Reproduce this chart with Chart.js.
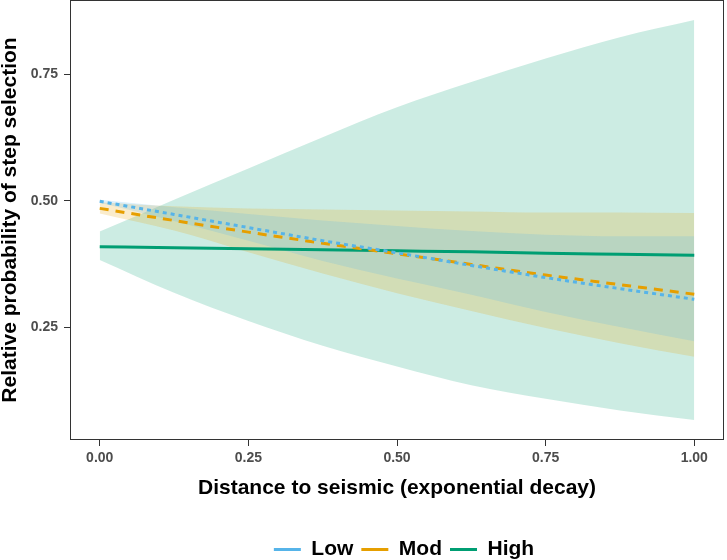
<!DOCTYPE html>
<html lang="en">
<head>
<meta charset="UTF-8" />
<title>Relative probability of step selection</title>
<script src="https://cdn.jsdelivr.net/npm/chart.js"></script>
<style>
  html, body { margin: 0; padding: 0; background: #fff; }
  #wrap { width: 727px; height: 560px; }
</style>
</head>
<body>
<div id="wrap"><canvas id="grafico"></canvas></div>
<script>
// distance to seismic (exponential decay), x positions of the predictions
const distancia = [0, 0.125, 0.25, 0.375, 0.5, 0.625, 0.75, 0.875, 1];

// Low
const lowFit   = [0.499, 0.473, 0.447, 0.421, 0.397, 0.372, 0.348, 0.326, 0.305];
const lowUpper = [0.502, 0.487, 0.474, 0.461, 0.450, 0.440, 0.433, 0.430, 0.430];
const lowLower = [0.496, 0.460, 0.421, 0.381, 0.346, 0.314, 0.280, 0.250, 0.222];

// Mod
const modFit   = [0.485, 0.461, 0.438, 0.416, 0.395, 0.374, 0.353, 0.334, 0.315];
const modUpper = [0.497, 0.489, 0.485, 0.483, 0.481, 0.479, 0.477, 0.477, 0.476];
const modLower = [0.475, 0.441, 0.398, 0.356, 0.317, 0.282, 0.248, 0.218, 0.191];

// High
const highFit   = [0.409, 0.407, 0.405, 0.403, 0.401, 0.399, 0.396, 0.394, 0.392];
const highUpper = [0.439, 0.502, 0.564, 0.626, 0.685, 0.735, 0.782, 0.824, 0.858];
const highLower = [0.383, 0.318, 0.262, 0.213, 0.172, 0.135, 0.108, 0.085, 0.066];

const xTicks = [0, 0.25, 0.5, 0.75, 1];
const yTicks = [0.25, 0.5, 0.75];

const pts = arr => arr.map((v, i) => ({ x: distancia[i], y: v }));

function banda(lower, upper, cor) {
    return [
        { label: '_lo', data: pts(lower), borderWidth: 0, pointRadius: 0, fill: false },
        { label: '_hi', data: pts(upper), borderWidth: 0, pointRadius: 0, fill: '-1', backgroundColor: cor }
    ];
}

function linha(nome, valores, cor, dash) {
    return {
        label: nome, data: pts(valores), borderColor: cor, backgroundColor: cor,
        borderWidth: 3, borderDash: dash, pointRadius: 0, fill: false
    };
}

const datasets = [
    ...banda(lowLower, lowUpper, 'rgba(86, 180, 233, 0.2)'),
    ...banda(modLower, modUpper, 'rgba(230, 159, 0, 0.2)'),
    ...banda(highLower, highUpper, 'rgba(0, 158, 115, 0.2)'),
    linha('Low', lowFit, '#56B4E9', [4, 4]),
    linha('Mod', modFit, '#E69F00', [9, 7]),
    linha('High', highFit, '#009E73', [])
];
datasets.forEach(d => { d.cubicInterpolationMode = 'monotone'; });

// panel border like ggplot
const marco = {
    id: 'marco',
    afterDatasetsDraw(chart) {
        const { ctx, chartArea: a } = chart;
        ctx.save();
        ctx.strokeStyle = '#333333';
        ctx.lineWidth = 1;
        ctx.strokeRect(a.left + 0.5, a.top + 0.5, a.right - a.left - 1, a.bottom - a.top - 1);
        ctx.restore();
    }
};

// push the legend a little lower and right, as in the original
const legendaPos = {
    id: 'legendaPos',
    afterLayout(chart) {
        const lg = chart.legend;
        lg.top += 10; lg.bottom += 10;
        lg.left += 7; lg.right += 7;
    }
};

const fam = 'Liberation Sans, Arial, sans-serif';
const tickFont = { family: fam, size: 14, weight: 'bold' };
const titleFont = { family: fam, size: 21, weight: 'bold', lineHeight: 1 };

const ctx = document.getElementById('grafico').getContext('2d');
const grafico = new Chart(ctx, {
    type: 'line',
    data: { datasets },
    plugins: [marco, legendaPos],
    options: {
        responsive: true,
        maintainAspectRatio: false,
        animation: false,
        layout: { padding: { top: 0, right: 3, left: 0, bottom: 0 } },
        plugins: {
            filler: { drawTime: 'beforeDatasetsDraw' },
            tooltip: { enabled: false },
            legend: {
                position: 'bottom',
                fullSize: false,
                labels: {
                    filter: item => !item.text.startsWith('_'),
                    usePointStyle: true,
                    pointStyle: 'line',
                    pointStyleWidth: 27,
                    color: '#000000',
                    font: { family: fam, size: 21, weight: 'bold', lineHeight: 1 },
                    padding: 8
                }
            }
        },
        scales: {
            x: {
                type: 'linear',
                min: -0.05,
                max: 1.05,
                afterBuildTicks: s => { s.ticks = xTicks.map(v => ({ value: v })); },
                afterFit: s => { s.height = 81; s.paddingLeft = 0; s.paddingRight = 0; },
                border: { display: false },
                grid: { drawOnChartArea: false, drawTicks: true, tickLength: 6, color: '#333333' },
                ticks: {
                    callback: v => Number(v).toFixed(2),
                    color: '#4D4D4D', font: tickFont, padding: 4,
                    maxRotation: 0, autoSkip: false
                },
                title: {
                    display: true,
                    text: 'Distance to seismic (exponential decay)',
                    color: '#000000', font: titleFont,
                    padding: { top: 0, bottom: 22 }
                }
            },
            y: {
                type: 'linear',
                min: 0.0264,
                max: 0.8976,
                afterBuildTicks: s => { s.ticks = yTicks.map(v => ({ value: v })); },
                afterFit: s => { s.width = 70; s.paddingTop = 0; s.paddingBottom = 0; },
                border: { display: false },
                grid: { drawOnChartArea: false, drawTicks: true, tickLength: 6, color: '#333333' },
                ticks: {
                    callback: v => Number(v).toFixed(2),
                    color: '#4D4D4D', font: tickFont, padding: 6, autoSkip: false
                },
                title: {
                    display: true,
                    text: 'Relative probability of step selection',
                    color: '#000000', font: titleFont,
                    padding: { top: 0, bottom: 0 }
                }
            }
        }
    }
});
</script>
</body>
</html>
